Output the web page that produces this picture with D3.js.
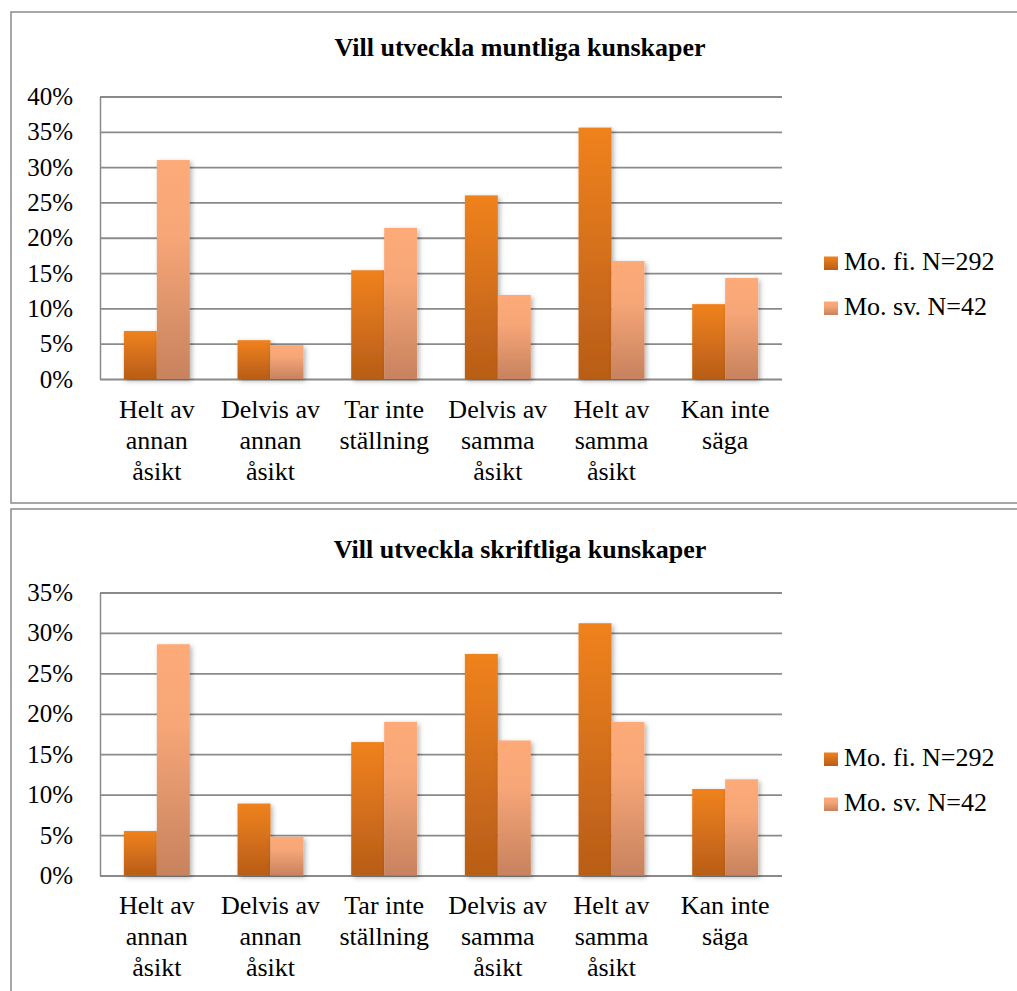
<!DOCTYPE html>
<html>
<head>
<meta charset="UTF-8" />
<title>Vill utveckla kunskaper</title>
<script src="https://cdn.jsdelivr.net/npm/d3@7"></script>
<style>
    body { margin: 0; background: #fff; }
    svg { display: block; font-family: "Liberation Serif", "Times New Roman", serif; }
</style>
</head>
<body>
<svg id="chart"></svg>
<script>
    // categories (one entry per label line)
    const categories = [
        ["Helt av", "annan", "åsikt"],
        ["Delvis av", "annan", "åsikt"],
        ["Tar inte", "ställning"],
        ["Delvis av", "samma", "åsikt"],
        ["Helt av", "samma", "åsikt"],
        ["Kan inte", "säga"]
    ];
    const seriesNames = ["Mo. fi. N=292", "Mo. sv. N=42"];

    // percent values
    const muntligaFi = [6.8, 5.5, 15.4, 26.0, 35.6, 10.6];
    const muntligaSv = [31.0, 4.8, 21.4, 11.9, 16.7, 14.3];
    const skriftligaFi = [5.5, 8.9, 16.5, 27.4, 31.2, 10.7];
    const skriftligaSv = [28.6, 4.8, 19.0, 16.7, 19.0, 11.9];

    const muntligaTicks = [0, 5, 10, 15, 20, 25, 30, 35, 40];
    const skriftligaTicks = [0, 5, 10, 15, 20, 25, 30, 35];

    const titles = ["Vill utveckla muntliga kunskaper", "Vill utveckla skriftliga kunskaper"];

    const width = 1017, height = 991;
    const svg = d3.select("#chart").attr("width", width).attr("height", height);

    const defs = svg.append("defs");
    // gradients per series, top to bottom of each bar
    const grads = [
        { id: "gFi", stops: [["0%", "#f0821f"], ["100%", "#b85d18"]] },
        { id: "gSv", stops: [["0%", "#fdaa78"], ["35%", "#f6a677"], ["100%", "#c7825e"]] }
    ];
    grads.forEach(g => {
        const lg = defs.append("linearGradient").attr("id", g.id)
            .attr("x1", 0).attr("y1", 0).attr("x2", 0).attr("y2", 1);
        g.stops.forEach(s => lg.append("stop").attr("offset", s[0]).attr("stop-color", s[1]));
    });
    const shadow = defs.append("filter").attr("id", "shadow")
        .attr("x", "-20%").attr("y", "-10%").attr("width", "150%").attr("height", "130%");
    shadow.append("feDropShadow").attr("dx", 2).attr("dy", 2)
        .attr("stdDeviation", 2.5).attr("flood-color", "#000").attr("flood-opacity", 0.3);

    const fills = ["url(#gFi)", "url(#gSv)"];

    const panels = [
        { top: 12, bottom: 503, title: titles[0], titleY: 56, plotTop: 96.5, plotBottom: 379,
          ticks: muntligaTicks, fi: muntligaFi, sv: muntligaSv, legendY: 270 },
        { top: 509, bottom: 1010, title: titles[1], titleY: 558, plotTop: 592.5, plotBottom: 875.5,
          ticks: skriftligaTicks, fi: skriftligaFi, sv: skriftligaSv, legendY: 766 }
    ];

    const plotLeft = 100, plotRight = 782;

    panels.forEach(p => {
        const g = svg.append("g");

        // panel frame
        g.append("rect")
            .attr("x", 11).attr("y", p.top)
            .attr("width", 1040).attr("height", p.bottom - p.top)
            .attr("fill", "#fff").attr("stroke", "#8a8a8a").attr("stroke-width", 1.5);

        g.append("text")
            .attr("x", 520).attr("y", p.titleY)
            .attr("text-anchor", "middle")
            .attr("font-weight", "bold").attr("font-size", 26)
            .text(p.title);

        const y = d3.scaleLinear()
            .domain([0, d3.max(p.ticks)])
            .range([p.plotBottom, p.plotTop]);

        const x0 = d3.scaleBand()
            .domain(d3.range(categories.length))
            .range([plotLeft, plotRight])
            .paddingInner(0.42).paddingOuter(0.21);

        const x1 = d3.scaleBand()
            .domain([0, 1])
            .range([0, x0.bandwidth()]);

        // gridlines and tick labels
        const yAxis = g.append("g")
            .attr("transform", `translate(${plotLeft},0)`)
            .call(d3.axisLeft(y)
                .tickValues(p.ticks)
                .tickFormat(d => d + "%")
                .tickSizeInner(-(plotRight - plotLeft))
                .tickSizeOuter(0)
                .tickPadding(27));
        yAxis.select(".domain").attr("stroke", "#8a8a8a").attr("stroke-width", 1.5);
        yAxis.selectAll(".tick line").attr("stroke", "#8a8a8a").attr("stroke-width", 1.8);
        yAxis.selectAll(".tick text")
            .attr("font-family", "Liberation Serif, Times New Roman, serif")
            .attr("font-size", 25).attr("fill", "#000");

        // bars
        const series = [p.fi, p.sv];
        series.forEach((vals, si) => {
            g.append("g").selectAll("rect")
                .data(vals)
                .join("rect")
                .attr("x", (d, i) => x0(i) + x1(si))
                .attr("y", d => y(d))
                .attr("width", x1.bandwidth())
                .attr("height", d => y(0) - y(d))
                .attr("fill", fills[si])
                .attr("filter", "url(#shadow)");
        });

        // category labels
        const labels = g.append("g").selectAll("text")
            .data(categories)
            .join("text")
            .attr("text-anchor", "middle")
            .attr("font-size", 26)
            .attr("x", (d, i) => x0(i) + x0.bandwidth() / 2)
            .attr("y", p.plotBottom + 38.5);
        labels.selectAll("tspan")
            .data(d => d)
            .join("tspan")
            .attr("x", function () { return d3.select(this.parentNode).attr("x"); })
            .attr("dy", (d, i) => i === 0 ? 0 : 31)
            .text(d => d);

        // legend
        const leg = g.append("g").selectAll("g")
            .data(seriesNames)
            .join("g")
            .attr("transform", (d, i) => `translate(824,${p.legendY + i * 45})`);
        leg.append("rect")
            .attr("x", 0).attr("y", -13.5)
            .attr("width", 14).attr("height", 13.5)
            .attr("fill", (d, i) => fills[i]);
        leg.append("text")
            .attr("x", 20).attr("y", 0)
            .attr("font-size", 26)
            .text(d => d);
    });
</script>
</body>
</html>
